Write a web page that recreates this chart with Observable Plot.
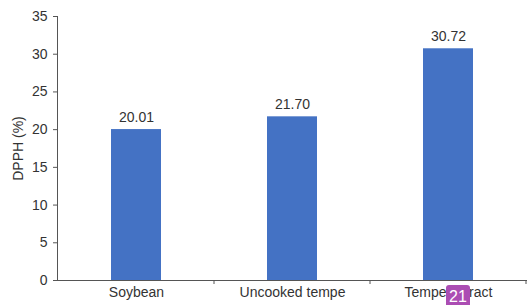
<!DOCTYPE html>
<html><head><meta charset="utf-8">
<script src="https://cdn.jsdelivr.net/npm/d3@7"></script>
<script src="https://cdn.jsdelivr.net/npm/@observablehq/plot@0.6"></script>
<style>
body{margin:0;background:#fff;}
#wrap{position:relative;width:527px;height:305px;overflow:hidden;}
#badge{position:absolute;left:446px;top:285px;width:24px;height:22px;background:#ab4db3;color:#fff;font:16px "Liberation Sans",Arial,sans-serif;text-align:center;line-height:23px;border-radius:3px 3px 0 0;}
</style></head>
<body><div id="wrap"></div>
<script>
const categories = ["Soybean", "Uncooked tempe", "Tempe extract"];
const values = [20.01, 21.70, 30.72];
const labels = ["20.01", "21.70", "30.72"];
const yTicks = [0, 5, 10, 15, 20, 25, 30, 35];
const yLabel = "DPPH (%)";
const badgeText = "21";

const data = categories.map((c, i) => ({cat: c, v: values[i], lab: labels[i]}));

function boundaryTicks(index, scales, values, dims) {
  const x = scales.x;
  const step = x.step ? x.step() : x.bandwidth();
  const g = d3.create("svg:g");
  const y0 = dims.height - dims.marginBottom;
  categories.forEach((c, i) => {
    const xr = x(c) + x.bandwidth() / 2 + step / 2;
    g.append("line").attr("x1", xr).attr("x2", xr).attr("y1", y0).attr("y2", y0 + 4)
      .attr("stroke", "#555").attr("stroke-width", 1);
  });
  return g.node();
}

const chart = Plot.plot({
  width: 527,
  height: 305,
  marginLeft: 57,
  marginRight: 0,
  marginTop: 16,
  marginBottom: 25,
  style: {fontFamily: "'Liberation Sans', Arial, sans-serif", fontSize: "13.5px", color: "#333", background: "#fff"},
  x: {domain: categories, paddingInner: 0.68, paddingOuter: 0.34, label: null},
  y: {domain: [0, 35], label: null},
  marks: [
    Plot.barY(data, {x: "cat", y: "v", fill: "#4472c4"}),
    Plot.text(data, {x: "cat", y: "v", text: "lab", dy: -12, fontSize: 14, fill: "#333"}),
    Plot.axisY({ticks: yTicks, tickSize: 4, tickPadding: 6, stroke: "#555", fill: "#333", fontSize: 14, label: yLabel, labelAnchor: "center", labelArrow: "none", labelOffset: 44}),
    Plot.axisX({tickSize: 0, tickPadding: 7, fill: "#333", fontSize: 14}),
    Plot.frame({anchor: "left", stroke: "#555"}),
    Plot.ruleY([0], {stroke: "#555"}),
    boundaryTicks
  ]
});
const wrap = document.getElementById("wrap");
wrap.appendChild(chart);
const b = document.createElement("div");
b.id = "badge";
b.textContent = badgeText;
wrap.appendChild(b);
</script></body></html>
